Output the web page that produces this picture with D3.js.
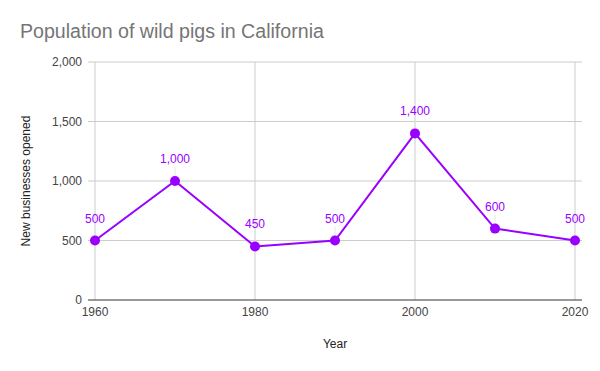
<!DOCTYPE html>
<html>
<head>
<meta charset="utf-8">
<script src="https://cdn.jsdelivr.net/npm/d3@7"></script>
<style>
  body { margin: 0; background: #fff; }
  text { font-family: "Liberation Sans", Arial, sans-serif; }
</style>
</head>
<body>
<script>
var years = [1960, 1970, 1980, 1990, 2000, 2010, 2020];
var pigs = [500, 1000, 450, 500, 1400, 600, 500];
var yTicks = [0, 500, 1000, 1500, 2000];
var xTicks = [1960, 1980, 2000, 2020];

var screen = { width: 600, height: 371 };
var plot = { left: 95, right: 575, top: 62, bottom: 300 };
var purple = '#9900ff';

var svg = d3.select('body')
            .append('svg')
            .attr('width', screen.width)
            .attr('height', screen.height);

var xScale = d3.scaleLinear()
               .domain([1960, 2020])
               .range([plot.left, plot.right]);
var yScale = d3.scaleLinear()
               .domain([0, 2000])
               .range([plot.bottom, plot.top]);

// title
svg.append('text')
   .attr('x', 20)
   .attr('y', 38)
   .attr('font-size', 19.6)
   .attr('fill', '#757575')
   .text('Population of wild pigs in California');

// horizontal grid
svg.append('g')
   .selectAll('line')
   .data(yTicks.slice(1))
   .enter()
   .append('line')
   .attr('x1', plot.left - 7)
   .attr('x2', plot.right + 7)
   .attr('y1', function(d){ return yScale(d); })
   .attr('y2', function(d){ return yScale(d); })
   .attr('stroke', '#cccccc')
   .attr('stroke-width', 1);

// vertical grid
svg.append('g')
   .selectAll('line')
   .data(xTicks)
   .enter()
   .append('line')
   .attr('x1', function(d){ return xScale(d); })
   .attr('x2', function(d){ return xScale(d); })
   .attr('y1', plot.top)
   .attr('y2', plot.bottom)
   .attr('stroke', '#cccccc')
   .attr('stroke-width', 1);

// baseline
svg.append('line')
   .attr('x1', plot.left - 7)
   .attr('x2', plot.right + 7)
   .attr('y1', plot.bottom)
   .attr('y2', plot.bottom)
   .attr('stroke', '#333333')
   .attr('stroke-width', 1);

// y tick labels
svg.append('g')
   .selectAll('text')
   .data(yTicks)
   .enter()
   .append('text')
   .attr('x', 82)
   .attr('y', function(d){ return yScale(d) + 4; })
   .attr('text-anchor', 'end')
   .attr('font-size', 12)
   .attr('fill', '#444444')
   .text(function(d){ return d3.format(',')(d); });

// x tick labels
svg.append('g')
   .selectAll('text')
   .data(xTicks)
   .enter()
   .append('text')
   .attr('x', function(d){ return xScale(d); })
   .attr('y', 316)
   .attr('text-anchor', 'middle')
   .attr('font-size', 12)
   .attr('fill', '#444444')
   .text(function(d){ return d; });

// axis titles
svg.append('text')
   .attr('x', 335)
   .attr('y', 348)
   .attr('text-anchor', 'middle')
   .attr('font-size', 12)
   .attr('fill', '#222222')
   .text('Year');

svg.append('text')
   .attr('transform', 'translate(30,' + ((plot.top + plot.bottom) / 2) + ') rotate(-90)')
   .attr('text-anchor', 'middle')
   .attr('font-size', 12)
   .attr('fill', '#222222')
   .text('New businesses opened');

var data = years.map(function(y, i){ return { year: y, value: pigs[i] }; });

// leader lines
svg.append('g')
   .selectAll('line')
   .data(data)
   .enter()
   .append('line')
   .attr('x1', function(d){ return xScale(d.year); })
   .attr('x2', function(d){ return xScale(d.year); })
   .attr('y1', function(d){ return yScale(d.value) - 14; })
   .attr('y2', function(d){ return yScale(d.value) - 4; })
   .attr('stroke', '#e6e6e6')
   .attr('stroke-width', 1);

// line
var drawLine = d3.line()
                 .x(function(d){ return xScale(d.year); })
                 .y(function(d){ return yScale(d.value); });

svg.append('path')
   .datum(data)
   .attr('d', drawLine)
   .attr('fill', 'none')
   .attr('stroke', purple)
   .attr('stroke-width', 2);

svg.append('g')
   .selectAll('circle')
   .data(data)
   .enter()
   .append('circle')
   .attr('cx', function(d){ return xScale(d.year); })
   .attr('cy', function(d){ return yScale(d.value); })
   .attr('r', 5)
   .attr('fill', purple);

// data labels
svg.append('g')
   .selectAll('text')
   .data(data)
   .enter()
   .append('text')
   .attr('x', function(d){ return xScale(d.year); })
   .attr('y', function(d){ return yScale(d.value) - 18; })
   .attr('text-anchor', 'middle')
   .attr('font-size', 12)
   .attr('font-family', 'Roboto, sans-serif')
   .attr('fill', purple)
   .text(function(d){ return d3.format(',')(d.value); });
</script>
</body>
</html>
